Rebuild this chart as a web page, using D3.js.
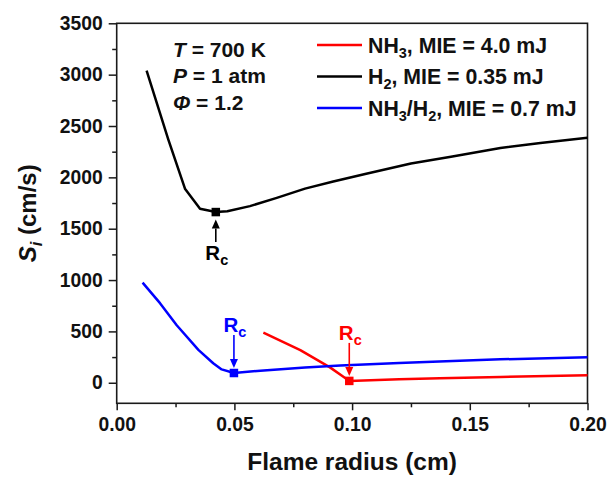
<!DOCTYPE html>
<html>
<head>
<meta charset="utf-8">
<script src="https://cdn.jsdelivr.net/npm/d3@7"></script>
<style>
  html, body { margin: 0; padding: 0; background: #fff; }
  svg { display: block; font-family: "Liberation Sans", Arial, sans-serif; font-weight: bold; }
</style>
</head>
<body>
<svg id="chart" width="608" height="477"></svg>
<script>
// Flame radius (cm) and ignition propagation speed S_i (cm/s) for each mixture
const nh3Radius  = [0.0623, 0.078, 0.0906, 0.0963, 0.0988, 0.12, 0.1373, 0.163, 0.2];
const nh3Speed   = [487, 318, 150, 58, 18, 33, 43, 57, 73];

const h2Radius   = [0.0127, 0.0219, 0.029, 0.0354, 0.0421, 0.047, 0.0566, 0.068, 0.08, 0.092, 0.106, 0.125, 0.142, 0.163, 0.18, 0.2];
const h2Speed    = [3040, 2370, 1890, 1695, 1662, 1670, 1720, 1800, 1890, 1960, 2035, 2135, 2200, 2285, 2335, 2386];

const blendRadius = [0.011, 0.0184, 0.0255, 0.0347, 0.041, 0.0446, 0.0498, 0.061, 0.08, 0.095, 0.12, 0.137, 0.163, 0.2];
const blendSpeed  = [975, 775, 560, 320, 190, 130, 95, 118, 148, 168, 193, 207, 228, 248];

// Critical radius R_c of each mixture (index into its own series)
const seriesNames = ["NH3", "H2", "NH3/H2"];
const criticalIndex = [4, 4, 6];

// Axis ticks
const xTicks = [0, 0.05, 0.10, 0.15, 0.20];
const xMinorTicks = [0.025, 0.075, 0.125, 0.175];
const yTicks = [0, 500, 1000, 1500, 2000, 2500, 3000, 3500];
const yMinorTicks = [250, 750, 1250, 1750, 2250, 2750, 3250];

const svg = d3.select("#chart");

const plot = { left: 116.7, right: 587.5, top: 23.3, bottom: 403.3 };
const x = d3.scaleLinear().domain([0, 0.2]).range([plot.left, plot.right]);
const y = d3.scaleLinear().domain([-200, 3500]).range([plot.bottom, plot.top]);

const series = [
  { name: seriesNames[0], radius: nh3Radius,   speed: nh3Speed,   color: "#ff0000" },
  { name: seriesNames[1], radius: h2Radius,    speed: h2Speed,    color: "#000000" },
  { name: seriesNames[2], radius: blendRadius, speed: blendSpeed, color: "#0000ff" }
];

// ---- axes ----
const axisColor = "#1a1a1a";

const xAxis = svg.append("g").attr("transform", `translate(0,${plot.bottom})`)
  .call(d3.axisBottom(x).tickValues(xTicks).tickFormat(d3.format(".2f"))
    .tickSizeInner(7).tickSizeOuter(0).tickPadding(7));
const xMinor = svg.append("g").attr("transform", `translate(0,${plot.bottom})`)
  .call(d3.axisBottom(x).tickValues(xMinorTicks).tickFormat("").tickSizeInner(4).tickSizeOuter(0));

const yAxis = svg.append("g").attr("transform", `translate(${plot.left},0)`)
  .call(d3.axisLeft(y).tickValues(yTicks).tickFormat(d3.format("d"))
    .tickSizeInner(8).tickSizeOuter(0).tickPadding(6));
const yMinor = svg.append("g").attr("transform", `translate(${plot.left},0)`)
  .call(d3.axisLeft(y).tickValues(yMinorTicks).tickFormat("").tickSizeInner(4.5).tickSizeOuter(0));

[xAxis, xMinor, yAxis, yMinor].forEach(g => {
  g.select(".domain").remove();
  g.selectAll("line").attr("stroke", axisColor).attr("stroke-width", 1.5);
  g.selectAll("text").attr("fill", "#111").style("font-size", "19.3px")
    .style("font-family", "'Liberation Sans', Arial, sans-serif").style("font-weight", "bold");
});

// plot frame
svg.append("rect")
  .attr("x", plot.left).attr("y", plot.top)
  .attr("width", plot.right - plot.left).attr("height", plot.bottom - plot.top)
  .attr("fill", "none").attr("stroke", axisColor).attr("stroke-width", 1.6);

// axis titles
svg.append("text")
  .attr("x", (plot.left + plot.right) / 2).attr("y", 470)
  .attr("text-anchor", "middle").style("font-size", "24.5px").attr("fill", "#111")
  .text("Flame radius (cm)");

const yTitle = svg.append("text")
  .attr("transform", `translate(36,${(plot.top + plot.bottom) / 2}) rotate(-90)`)
  .attr("text-anchor", "middle").style("font-size", "24px").attr("fill", "#111");
yTitle.append("tspan").style("font-style", "italic").text("S");
yTitle.append("tspan").style("font-style", "italic").style("font-size", "16.5px").attr("dy", 6).text("i");
yTitle.append("tspan").attr("dy", -6).text(" (cm/s)");

// ---- curves ----
const line = d3.line().x(d => x(d[0])).y(d => y(d[1]));

series.forEach(s => {
  const pts = s.radius.map((r, i) => [r, s.speed[i]]);
  svg.append("path").datum(pts)
    .attr("d", line)
    .attr("fill", "none").attr("stroke", s.color)
    .attr("stroke-width", 2.5).attr("stroke-linejoin", "round");
});

// ---- critical radius markers and arrows ----
const markerSize = 8.5;
series.forEach((s, k) => {
  const i = criticalIndex[k];
  const mx = x(s.radius[i]), my = y(s.speed[i]);
  svg.append("rect")
    .attr("x", mx - markerSize / 2).attr("y", my - markerSize / 2)
    .attr("width", markerSize).attr("height", markerSize)
    .attr("fill", s.color);

  const below = s.name === "H2";
  const tipY  = below ? my + 7.5 : my - 5;
  const tailY = below ? my + 30 : my - 38;
  const dir = below ? 1 : -1;       // direction from tip towards tail
  const headLen = 9, headHalf = 4;

  svg.append("line")
    .attr("x1", mx).attr("x2", mx)
    .attr("y1", tailY).attr("y2", tipY + dir * headLen)
    .attr("stroke", s.color).attr("stroke-width", 1.6);
  svg.append("path")
    .attr("d", `M${mx},${tipY} L${mx - headHalf},${tipY + dir * headLen} L${mx + headHalf},${tipY + dir * headLen} Z`)
    .attr("fill", s.color);

  const labelY = below ? my + 48 : my - 41;
  const t = svg.append("text")
    .attr("x", mx + 1).attr("y", labelY)
    .attr("text-anchor", "middle").attr("fill", s.color)
    .style("font-size", "20.5px");
  t.append("tspan").text("R");
  t.append("tspan").attr("dy", 5).style("font-size", "14.5px").text("c");
});

// ---- condition annotation ----
const condRows = [
  { sym: "T", rest: " = 700 K" },
  { sym: "P", rest: " = 1 atm" },
  { sym: "\u03A6", rest: " = 1.2" }
];
const condBaselines = [57.3, 83.3, 110];
condRows.forEach((r, i) => {
  const t = svg.append("text")
    .attr("x", 173).attr("y", condBaselines[i])
    .attr("fill", "#111").style("font-size", "21px");
  t.append("tspan").style("font-style", "italic").text(r.sym);
  t.append("tspan").text(r.rest);
});

// ---- legend ----
const legendRows = [
  { parts: [["NH", 0], ["3", 1], [", MIE = 4.0 mJ", 0]], color: "#ff0000" },
  { parts: [["H", 0], ["2", 1], [", MIE = 0.35 mJ", 0]], color: "#000000" },
  { parts: [["NH", 0], ["3", 1], ["/H", 0], ["2", 1], [", MIE = 0.7 mJ", 0]], color: "#0000ff" }
];
const legendY = [45, 76.5, 108];
legendRows.forEach((row, i) => {
  svg.append("line")
    .attr("x1", 317).attr("x2", 362)
    .attr("y1", legendY[i]).attr("y2", legendY[i])
    .attr("stroke", row.color).attr("stroke-width", 2.5);
  const t = svg.append("text")
    .attr("x", 368).attr("y", legendY[i] + 7.5)
    .attr("fill", "#111").style("font-size", "21.3px");
  let shifted = false;
  row.parts.forEach(([txt, sub]) => {
    const ts = t.append("tspan").text(txt);
    if (sub && !shifted) { ts.attr("dy", 5).style("font-size", "14.5px"); shifted = true; }
    else if (!sub && shifted) { ts.attr("dy", -5); shifted = false; }
    else if (sub) ts.style("font-size", "14.5px");
  });
});
</script>
</body>
</html>
